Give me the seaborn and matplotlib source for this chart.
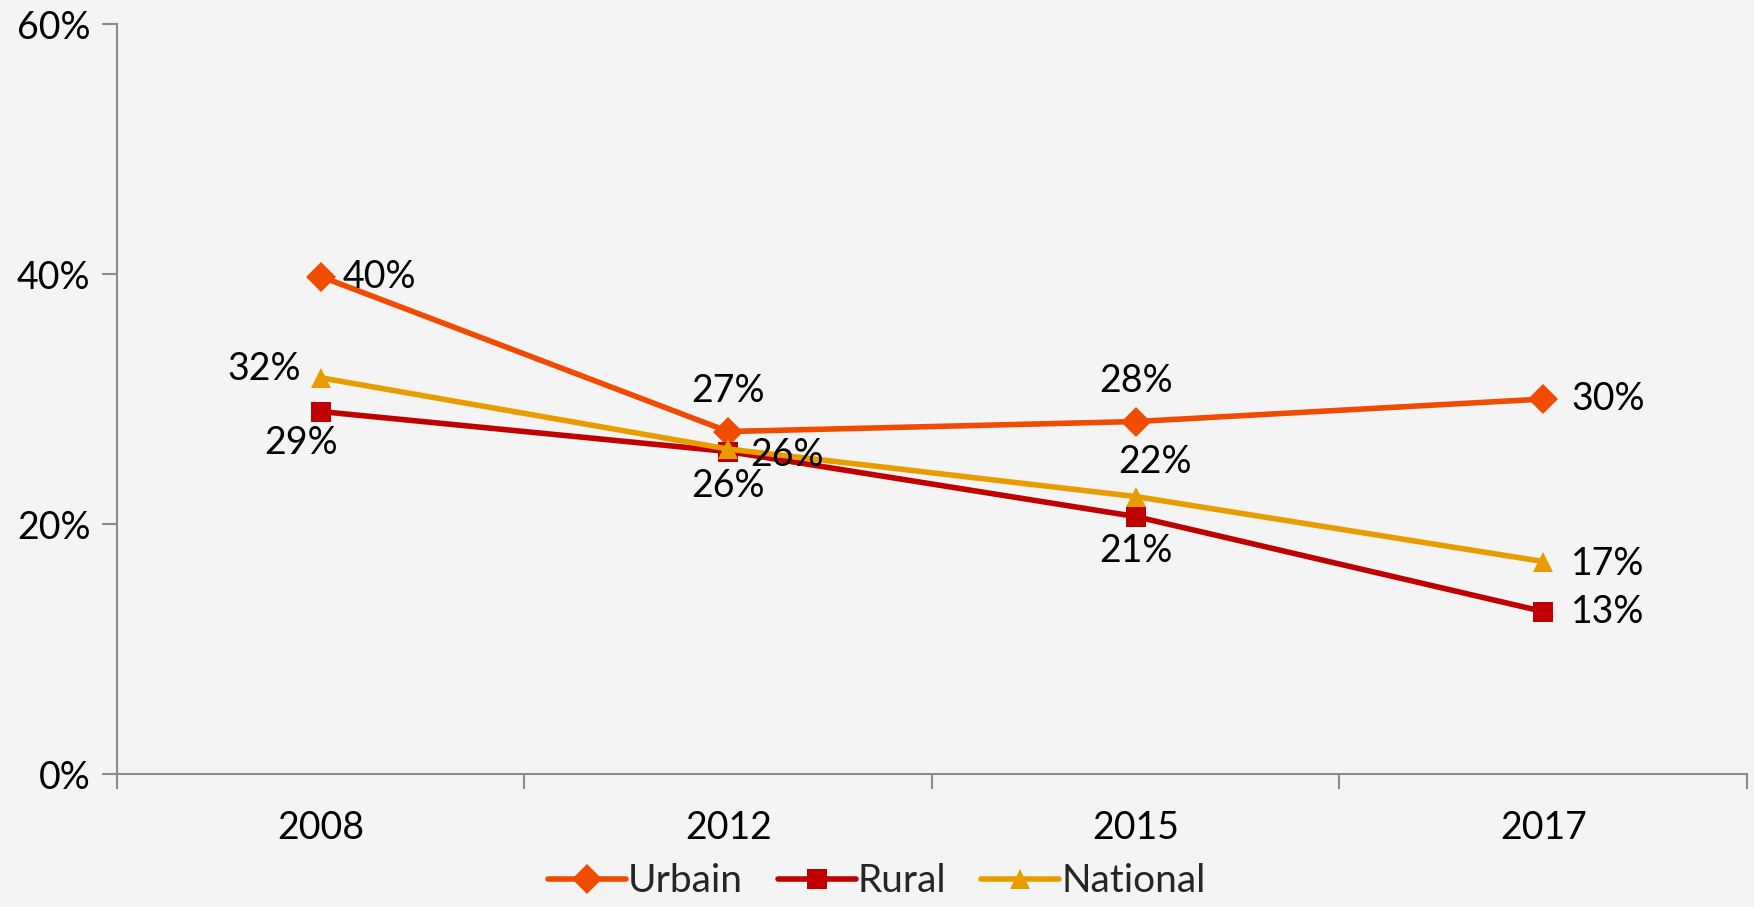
import matplotlib
matplotlib.use("Agg")
import matplotlib.pyplot as plt
import pandas as pd
import seaborn as sns
from matplotlib.ticker import FixedLocator, PercentFormatter

years = ["2008", "2012", "2015", "2017"]
urbain = [39.8, 27.4, 28.2, 30.0]
rural = [29.0, 25.8, 20.6, 13.0]
national = [31.7, 26.0, 22.2, 17.0]
series_names = ["Urbain", "Rural", "National"]
labels_urbain = ["40%", "27%", "28%", "30%"]
labels_rural = ["29%", "26%", "21%", "13%"]
labels_national = ["32%", "26%", "22%", "17%"]

colors = {"Urbain": "#F04B00", "Rural": "#C00000", "National": "#E89C00"}
markers = {"Urbain": "D", "Rural": "s", "National": "^"}

df = pd.DataFrame(
    {
        "year": years * 3,
        "value": urbain + rural + national,
        "series": [s for s in series_names for _ in years],
        "label": labels_urbain + labels_rural + labels_national,
    }
)

sns.set_theme(style="white")
plt.rcParams["font.family"] = ["Lato", "DejaVu Sans"]
bg = "#F4F4F4"
fs = 27

fig = plt.figure(figsize=(17.54, 9.07), dpi=100, facecolor=bg)
ax = fig.add_axes([0.0667, 0.1466, 0.9293, 0.8269])
ax.set_facecolor(bg)

sns.lineplot(
    data=df, x="year", y="value", hue="series", style="series",
    hue_order=series_names, style_order=series_names,
    palette=colors, markers=markers, dashes=False, linewidth=4,
    markersize=15, markeredgewidth=0, ax=ax, sort=False,
)

# label placement per series (offset points)
offsets = {
    "Urbain": [(16, 0, "left", "center"), (0, 16, "center", "bottom"), (0, 16, "center", "bottom"), (20, 0, "left", "center")],
    "Rural": [(-14, -10, "center", "top"), (0, -12, "center", "top"), (0, -12, "center", "top"), (20, 0, "left", "center")],
    "National": [(-14, 6, "right", "center"), (16, -4, "left", "center"), (14, 12, "center", "bottom"), (20, -2, "left", "center")],
}
for s in series_names:
    sub = df[df["series"] == s].reset_index(drop=True)
    for i, row in sub.iterrows():
        dx, dy, ha, va = offsets[s][i]
        ax.annotate(row["label"], (i, row["value"]), xytext=(dx, dy), textcoords="offset points",
                    ha=ha, va=va, fontsize=fs, color="black")

ax.set_xlim(-0.5, 3.5)
ax.set_ylim(0, 60)
ax.yaxis.set_major_locator(FixedLocator([0, 20, 40, 60]))
ax.yaxis.set_major_formatter(PercentFormatter(decimals=0))
ax.xaxis.set_minor_locator(FixedLocator([-0.5, 0.5, 1.5, 2.5, 3.5]))
ax.tick_params(axis="x", which="major", bottom=True, length=0, pad=26, labelsize=fs, colors="black")
ax.tick_params(axis="x", which="minor", bottom=True, length=11, width=1.5, color="#8C8C8C", direction="out")
ax.tick_params(axis="y", which="major", left=True, length=11, width=1.5, color="#8C8C8C", direction="out",
               labelsize=fs, labelcolor="black", pad=8)
ax.set_xlabel("")
ax.set_ylabel("")
for side in ["top", "right"]:
    ax.spines[side].set_visible(False)
for side in ["left", "bottom"]:
    ax.spines[side].set_color("#8C8C8C")
    ax.spines[side].set_linewidth(1.5)

handles, lbls = ax.get_legend_handles_labels()
ax.get_legend().remove()
fig.legend(handles, lbls, loc="lower center", ncol=3, frameon=False, fontsize=28,
           bbox_to_anchor=(0.5, -0.03), handlelength=2.0, handletextpad=0.05, columnspacing=0.9)

fig.savefig("out.png", dpi=100, facecolor=bg)
